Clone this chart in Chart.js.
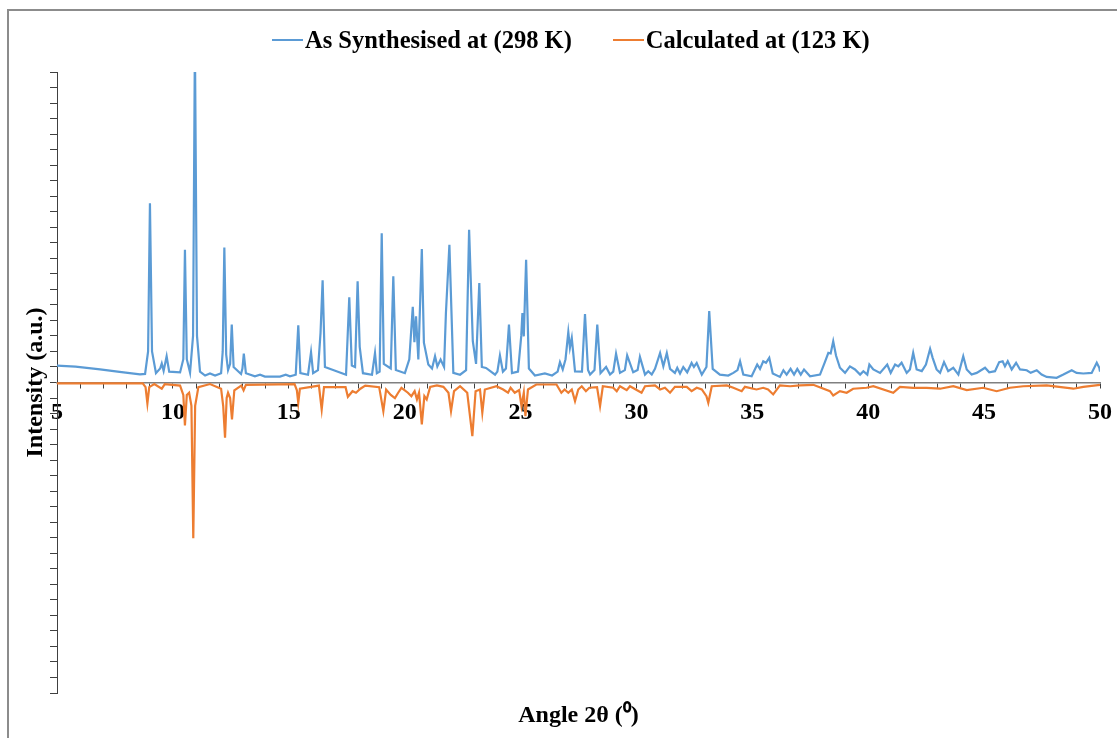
<!DOCTYPE html>
<html>
<head>
<meta charset="utf-8">
<title>PXRD comparison</title>
<script src="https://cdn.jsdelivr.net/npm/chart.js@4.4.1/dist/chart.umd.min.js"></script>
<style>
    html, body { margin: 0; padding: 0; background: #ffffff; }
    .wrap { position: relative; width: 1117px; height: 738px; overflow: hidden; }
    .frame { position: absolute; left: 7px; top: 9px; width: 1400px; height: 1000px; border: 2px solid #8c8c8c; }
    canvas { position: absolute; left: 0; top: 0; }
    #legendBox {
        position: absolute; left: 272px; top: 24px;
        display: flex; color: #000000;
        font: bold 24.5px 'Liberation Serif', 'Times New Roman', serif;
        line-height: 32px; white-space: nowrap;
    }
    .legend-item { display: flex; align-items: center; }
    .legend-item + .legend-item { margin-left: 41px; }
    .legend-line { display: inline-block; width: 31px; height: 2px; margin-right: 2px; }
</style>
</head>
<body>
<div class="wrap">
    <div class="frame"></div>
    <canvas id="xrdChart" width="1117" height="738"></canvas>
    <div id="legendBox"></div>
</div>
<script>
// Measured pattern, [2theta, intensity]
const synthPattern = [
    [5.00, 1.09], [5.80, 1.02], [6.86, 0.85], [7.70, 0.68], [8.58, 0.52], [8.80, 0.55],
    [8.93, 2.0], [9.01, 11.55], [9.10, 2.0], [9.27, 0.6], [9.45, 0.9], [9.52, 1.22],
    [9.60, 0.75], [9.73, 1.69], [9.84, 0.7], [10.31, 0.65], [10.45, 1.5], [10.52, 8.55],
    [10.60, 1.5], [10.74, 0.64], [10.87, 3.0], [10.95, 22.0], [11.04, 3.0], [11.17, 0.7],
    [11.39, 0.45], [11.60, 0.58], [11.82, 0.45], [12.08, 0.6], [12.15, 2.0], [12.22, 8.7],
    [12.30, 1.8], [12.38, 0.8], [12.47, 1.2], [12.54, 3.73], [12.62, 1.0], [12.94, 0.55],
    [13.00, 0.9], [13.06, 1.86], [13.15, 0.6], [13.54, 0.4], [13.76, 0.5], [13.97, 0.38],
    [14.62, 0.38], [14.87, 0.5], [15.05, 0.4], [15.30, 0.5], [15.41, 3.69], [15.50, 0.6],
    [15.83, 0.5], [15.96, 1.95], [16.05, 0.6], [16.26, 0.8], [16.37, 3.2], [16.46, 6.58],
    [16.56, 1.0], [17.47, 0.5], [17.61, 5.49], [17.72, 1.1], [17.86, 1.0], [17.97, 6.52],
    [18.06, 2.3], [18.20, 0.6], [18.59, 0.5], [18.72, 1.9], [18.80, 0.6], [18.92, 0.7],
    [19.01, 9.62], [19.10, 1.2], [19.40, 0.9], [19.51, 6.84], [19.62, 0.8], [20.01, 0.6],
    [20.20, 1.5], [20.35, 4.87], [20.42, 2.6], [20.49, 4.27], [20.59, 1.48], [20.74, 8.6],
    [20.83, 2.57], [21.02, 1.16], [21.18, 0.9], [21.31, 1.69], [21.41, 1.04], [21.55, 1.48],
    [21.70, 1.0], [21.78, 4.48], [21.93, 8.87], [22.10, 0.62], [22.39, 0.5], [22.65, 0.8],
    [22.78, 9.84], [22.94, 2.66], [23.08, 1.2], [23.22, 6.4], [23.33, 1.0], [23.51, 0.94],
    [23.90, 0.5], [24.00, 0.7], [24.11, 1.74], [24.24, 0.7], [24.37, 0.9], [24.50, 3.73],
    [24.63, 0.6], [24.89, 0.7], [25.03, 3.0], [25.08, 4.48], [25.14, 2.97], [25.24, 7.9],
    [25.36, 0.9], [25.62, 0.45], [26.05, 0.58], [26.36, 0.45], [26.60, 0.7], [26.70, 1.31],
    [26.82, 0.84], [26.94, 1.5], [27.06, 3.24], [27.13, 2.24], [27.21, 2.87], [27.35, 0.72],
    [27.65, 0.7], [27.78, 4.41], [27.91, 0.8], [28.00, 0.51], [28.19, 0.8], [28.31, 3.73],
    [28.45, 0.6], [28.69, 1.0], [28.86, 0.51], [29.00, 0.7], [29.12, 1.86], [29.29, 0.62],
    [29.50, 0.8], [29.60, 1.74], [29.86, 0.66], [30.05, 0.8], [30.15, 1.65], [30.37, 0.51],
    [30.51, 0.72], [30.66, 0.51], [30.80, 0.88], [31.02, 1.9], [31.16, 1.04], [31.31, 1.9],
    [31.45, 0.88], [31.66, 0.62], [31.76, 0.94], [31.88, 0.58], [32.02, 1.0], [32.19, 0.66],
    [32.38, 1.26], [32.48, 1.0], [32.60, 1.26], [32.82, 0.51], [33.02, 1.0], [33.14, 4.6],
    [33.29, 0.88], [33.60, 0.51], [33.96, 0.45], [34.18, 0.62], [34.36, 0.8], [34.47, 1.37],
    [34.61, 0.51], [34.97, 0.4], [35.21, 1.16], [35.33, 0.88], [35.47, 1.37], [35.59, 1.27],
    [35.73, 1.59], [35.88, 0.58], [36.19, 0.36], [36.34, 0.79], [36.48, 0.51], [36.65, 0.88],
    [36.80, 0.51], [36.94, 0.88], [37.09, 0.51], [37.23, 0.84], [37.49, 0.4], [37.92, 0.51],
    [38.13, 1.31], [38.28, 1.91], [38.38, 1.87], [38.49, 2.66], [38.61, 1.74], [38.78, 0.95],
    [39.00, 0.62], [39.21, 1.04], [39.43, 0.84], [39.65, 0.51], [39.79, 0.73], [39.96, 0.51],
    [40.05, 1.16], [40.22, 0.84], [40.51, 0.62], [40.82, 1.16], [40.97, 0.62], [41.16, 1.16],
    [41.30, 1.04], [41.44, 1.27], [41.66, 0.62], [41.80, 0.84], [41.94, 1.91], [42.09, 0.84],
    [42.31, 0.73], [42.49, 1.16], [42.67, 2.17], [42.78, 1.59], [42.95, 0.84], [43.10, 0.62],
    [43.27, 1.31], [43.45, 0.73], [43.67, 0.95], [43.89, 0.51], [44.10, 1.69], [44.25, 0.84],
    [44.46, 0.51], [44.68, 0.62], [45.04, 0.95], [45.22, 0.66], [45.47, 0.73], [45.65, 1.31],
    [45.80, 1.37], [45.90, 1.04], [46.02, 1.37], [46.19, 0.84], [46.38, 1.27], [46.55, 0.84],
    [46.84, 0.79], [47.01, 0.62], [47.27, 0.79], [47.48, 0.51], [47.70, 0.36], [48.13, 0.30],
    [48.42, 0.51], [48.78, 0.79], [48.99, 0.62], [49.28, 0.58], [49.64, 0.62], [49.86, 1.27],
    [49.97, 0.95], [50.00, 0.70]
];

// Simulated pattern from the single crystal structure, plotted downwards
const calcPattern = [
    [5.00, -0.06], [8.70, -0.06], [8.82, -0.3], [8.90, -1.35], [8.98, -0.3], [9.20, -0.1],
    [9.52, -0.4], [9.65, -0.1], [10.31, -0.2], [10.45, -0.8], [10.52, -2.77], [10.60, -0.8],
    [10.70, -0.66], [10.80, -1.5], [10.88, -10.03], [10.96, -1.5], [11.10, -0.3], [11.60, -0.1],
    [12.08, -0.4], [12.17, -1.5], [12.25, -3.56], [12.32, -1.0], [12.38, -0.66], [12.47, -1.0],
    [12.55, -2.38], [12.65, -0.5], [12.95, -0.2], [13.05, -0.5], [13.15, -0.15], [15.25, -0.1],
    [15.35, -0.5], [15.41, -1.31], [15.48, -0.4], [16.30, -0.2], [16.42, -1.74], [16.52, -0.3],
    [17.45, -0.3], [17.55, -0.92], [17.75, -0.56], [17.90, -0.66], [18.09, -0.4], [18.30, -0.2],
    [18.90, -0.3], [19.08, -1.84], [19.20, -0.45], [19.40, -0.8], [19.58, -1.0], [19.72, -0.66],
    [19.86, -0.34], [20.14, -0.66], [20.29, -0.88], [20.43, -0.56], [20.53, -1.09], [20.62, -0.66],
    [20.74, -2.7], [20.85, -0.88], [20.95, -1.09], [21.10, -0.28], [21.39, -0.19], [21.67, -0.28],
    [21.89, -0.66], [22.00, -1.84], [22.13, -0.56], [22.39, -0.24], [22.70, -0.66], [22.92, -3.45],
    [23.06, -0.56], [23.25, -0.45], [23.35, -1.95], [23.46, -0.45], [23.96, -0.24], [24.25, -0.45],
    [24.46, -0.66], [24.57, -0.34], [24.75, -0.66], [24.94, -0.49], [25.04, -1.52], [25.14, -0.66],
    [25.21, -2.17], [25.32, -0.45], [25.68, -0.13], [26.55, -0.13], [26.76, -0.66], [26.90, -0.45],
    [27.06, -0.66], [27.21, -0.45], [27.35, -1.2], [27.49, -0.45], [27.64, -0.24], [27.82, -0.56],
    [27.97, -0.34], [28.30, -0.3], [28.43, -1.52], [28.55, -0.24], [29.00, -0.34], [29.15, -0.56],
    [29.29, -0.24], [29.58, -0.49], [29.72, -0.24], [30.22, -0.66], [30.37, -0.24], [30.80, -0.19],
    [31.02, -0.45], [31.23, -0.34], [31.45, -0.66], [31.66, -0.28], [32.17, -0.28], [32.38, -0.56],
    [32.60, -0.34], [32.82, -0.45], [33.02, -0.88], [33.10, -1.31], [33.25, -0.24], [33.90, -0.19],
    [34.18, -0.34], [34.54, -0.56], [34.68, -0.28], [35.18, -0.45], [35.47, -0.34], [35.68, -0.45],
    [35.90, -0.77], [36.19, -0.19], [36.63, -0.24], [37.06, -0.19], [37.63, -0.15], [38.35, -0.56],
    [38.49, -0.84], [38.78, -0.56], [39.07, -0.66], [39.35, -0.4], [39.93, -0.34], [40.22, -0.24],
    [41.08, -0.66], [41.37, -0.28], [41.94, -0.34], [42.52, -0.34], [43.10, -0.4], [43.67, -0.24],
    [44.25, -0.49], [44.96, -0.34], [45.54, -0.56], [46.11, -0.34], [46.69, -0.24], [47.70, -0.19],
    [48.85, -0.4], [49.28, -0.28], [50.00, -0.15]
];

const seriesLabels = ['As Synthesised at (298 K)', 'Calculated at (123 K)'];
const seriesColors = ['#5b9bd5', '#ed7d31'];

// Axis limits: 2theta in degrees, intensity in arbitrary units
const angleRange = [5, 50];
const intensityRange = [-20, 20];
const angleLabelEvery = 5;

const serifFont = "'Liberation Serif', 'Times New Roman', serif";
const boldFont = { family: serifFont, size: 24, weight: 'bold' };

function toPoints(pattern) {
    return pattern.map(([angle, intensity]) => ({ x: angle, y: intensity }));
}

// Legend rendered as HTML from the chart's own legend items
const htmlLegend = {
    id: 'htmlLegend',
    afterUpdate(chart) {
        const box = document.getElementById('legendBox');
        if (!box) return;
        box.innerHTML = '';

        const items = chart.options.plugins.legend.labels.generateLabels(chart);
        items.forEach(item => {
            const entry = document.createElement('div');
            entry.className = 'legend-item';

            const line = document.createElement('span');
            line.className = 'legend-line';
            line.style.background = item.strokeStyle;

            const text = document.createElement('span');
            text.textContent = item.text;

            entry.appendChild(line);
            entry.appendChild(text);
            box.appendChild(entry);
        });
    }
};

function initializeChart() {
    const ctx = document.getElementById('xrdChart');

    new Chart(ctx, {
        type: 'line',
        data: {
            datasets: [
                {
                    label: seriesLabels[0],
                    data: toPoints(synthPattern),
                    borderColor: seriesColors[0],
                    backgroundColor: seriesColors[0],
                    borderWidth: 2.2,
                    pointRadius: 0,
                    tension: 0
                },
                {
                    label: seriesLabels[1],
                    data: toPoints(calcPattern),
                    borderColor: seriesColors[1],
                    backgroundColor: seriesColors[1],
                    borderWidth: 2.2,
                    pointRadius: 0,
                    tension: 0
                }
            ]
        },
        options: {
            responsive: false,
            animation: false,
            layout: {
                padding: { top: 72, left: 12.2, right: 17, bottom: 3.6 }
            },
            scales: {
                x: {
                    type: 'linear',
                    position: { y: 0 },
                    min: angleRange[0],
                    max: angleRange[1],
                    // the "50" label may hang past the plot edge
                    afterFit: scale => { scale.paddingRight = 0; },
                    ticks: {
                        stepSize: 1,
                        autoSkip: false,
                        maxRotation: 0,
                        padding: 10.6,
                        color: '#000000',
                        font: boldFont,
                        callback: value => (value % angleLabelEvery === 0 ? value : '')
                    },
                    grid: {
                        drawOnChartArea: false,
                        tickLength: 5,
                        color: '#404040'
                    },
                    border: { color: '#808080', width: 1.5 }
                },
                y: {
                    type: 'linear',
                    min: intensityRange[0],
                    max: intensityRange[1],
                    ticks: { display: false, stepSize: 1 },
                    grid: {
                        drawOnChartArea: false,
                        tickLength: 7,
                        color: '#404040'
                    },
                    border: { color: '#404040', width: 1 },
                    title: {
                        display: true,
                        text: 'Intensity (a.u.)',
                        color: '#000000',
                        font: boldFont,
                        padding: { top: 9, bottom: 0 }
                    }
                }
            },
            plugins: {
                legend: { display: false },
                title: {
                    display: true,
                    position: 'bottom',
                    fullSize: false,
                    text: 'Angle 2θ (⁰)',
                    color: '#000000',
                    font: boldFont,
                    padding: { top: 8.6, bottom: 4 }
                },
                tooltip: { enabled: false }
            }
        },
        plugins: [htmlLegend]
    });
}

document.addEventListener('DOMContentLoaded', initializeChart);
</script>
</body>
</html>
